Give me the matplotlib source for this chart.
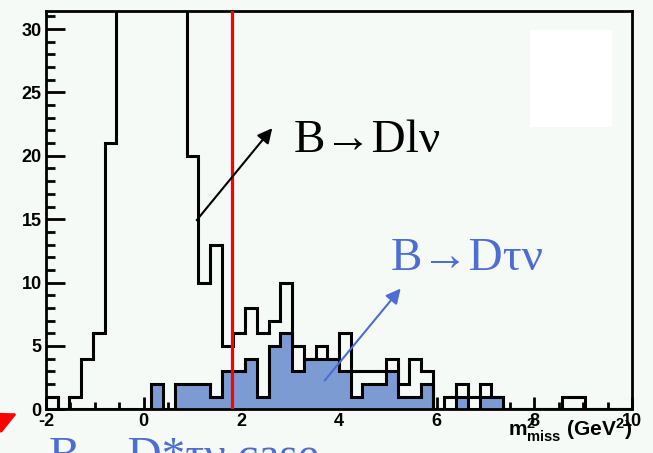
import numpy as np
import matplotlib
matplotlib.use('Agg')
import matplotlib.pyplot as plt
from matplotlib.ticker import MultipleLocator
from matplotlib.patches import Rectangle, FancyArrowPatch

plt.rcParams['axes.unicode_minus'] = False
plt.rcParams['mathtext.fontset'] = 'custom'
plt.rcParams['mathtext.rm'] = 'Liberation Sans:bold'
plt.rcParams['mathtext.it'] = 'Liberation Sans:bold'
plt.rcParams['mathtext.bf'] = 'Liberation Sans:bold'

# binning of missing mass squared (GeV^2)
x_min, x_max, n_bins = -2.0, 10.0, 50

# events per bin: all candidates (B->Dlnu dominated) and the B->Dtaunu part
n_total = [1, 0, 1, 4, 6, 21, 45, 80, 95, 90, 70, 42,
           20, 10, 13, 5, 6, 8, 6, 7, 10, 5, 4, 5, 4, 6, 3, 3, 3, 4, 2, 4, 3,
           0, 1, 2, 1, 2, 1, 0, 0, 0, 0, 0, 1, 1, 0, 0, 0, 0]
n_dtau = [0, 0, 0, 0, 0, 0, 0, 0, 0,
          2, 0, 2, 2, 2, 1, 3, 3, 4, 1, 5, 6, 3, 4, 4, 4, 3, 1, 2, 2, 3,
          1, 1, 2, 0, 0, 1, 0, 1, 1,
          0, 0, 0, 0, 0, 0, 0, 0, 0, 0, 0]

cut = 1.8
y_top = 31.4

bg = '#f6faf7'
blue_fill = '#7b9bd2'
blue_txt = '#4d6dd2'

edges = np.linspace(x_min, x_max, n_bins + 1)

fig = plt.figure(figsize=(6.53, 4.53), dpi=100, facecolor=bg)
ax = fig.add_axes([0.0704, 0.0964, 0.8974, 0.8787])
ax.set_facecolor(bg)

ax.stairs(n_dtau, edges, fill=True, color=blue_fill, zorder=2)
ax.stairs(n_dtau, edges, color='black', lw=2.2, zorder=3)
ax.stairs(n_total, edges, color='black', lw=2.2, zorder=3)
ax.axvline(cut, color='red', lw=2.3, zorder=5)

ax.set_xlim(x_min, x_max)
ax.set_ylim(0, y_top)

# empty stats box
ax.add_patch(Rectangle((0.826, 0.709), 0.14, 0.244, transform=ax.transAxes,
                       facecolor='white', edgecolor='none', zorder=1))

for s in ax.spines.values():
    s.set_linewidth(2.0)

ax.xaxis.set_major_locator(MultipleLocator(2))
ax.xaxis.set_minor_locator(MultipleLocator(0.5))
ax.yaxis.set_major_locator(MultipleLocator(5))
ax.yaxis.set_minor_locator(MultipleLocator(1))
ax.tick_params(axis='both', which='both', direction='in', top=False, right=False,
               width=2.0, labelsize=13)
ax.tick_params(axis='y', which='major', length=13.5, pad=3)
ax.tick_params(axis='y', which='minor', length=6.5)
ax.tick_params(axis='x', which='major', length=9, pad=3)
ax.tick_params(axis='x', which='minor', length=4.8)
for lab in ax.get_xticklabels() + ax.get_yticklabels():
    lab.set_fontfamily('Liberation Sans')
    lab.set_fontweight('bold')

ax.text(1.0, -0.018, r'$\mathrm{m^{2}_{miss}\ (GeV^{2})}$', transform=ax.transAxes,
        ha='right', va='top', fontsize=15)

serif = ['Liberation Serif', 'DejaVu Serif']
ax.text(3.08, 20.3, 'B→Dlν', family=serif, fontsize=34, color='black',
        ha='left', va='baseline', zorder=6)
ax.text(5.06, 11.0, 'B→Dτν', family=serif, fontsize=34, color=blue_txt,
        ha='left', va='baseline', zorder=6)

ax.annotate('', xy=(2.67, 22.35), xytext=(1.05, 14.75),
            arrowprops=dict(arrowstyle='-|>', color='black', lw=1.5,
                            mutation_scale=22), zorder=6)
ax.annotate('', xy=(5.30, 9.7), xytext=(3.67, 2.1),
            arrowprops=dict(arrowstyle='-|>', color=blue_txt, lw=1.5,
                            mutation_scale=22), zorder=6)

# red pointer at the lower left and the caption running off the bottom
fig.add_artist(FancyArrowPatch((-0.03, 0.05), (0.03, 0.09),
                               transform=fig.transFigure, arrowstyle='-|>',
                               color='red', lw=2, mutation_scale=34))
fig.text(0.075, -0.035, 'B→D*τν case', family=serif, fontsize=34,
         color=blue_txt, ha='left', va='baseline')

fig.savefig('out.png', dpi=100, facecolor=bg)
